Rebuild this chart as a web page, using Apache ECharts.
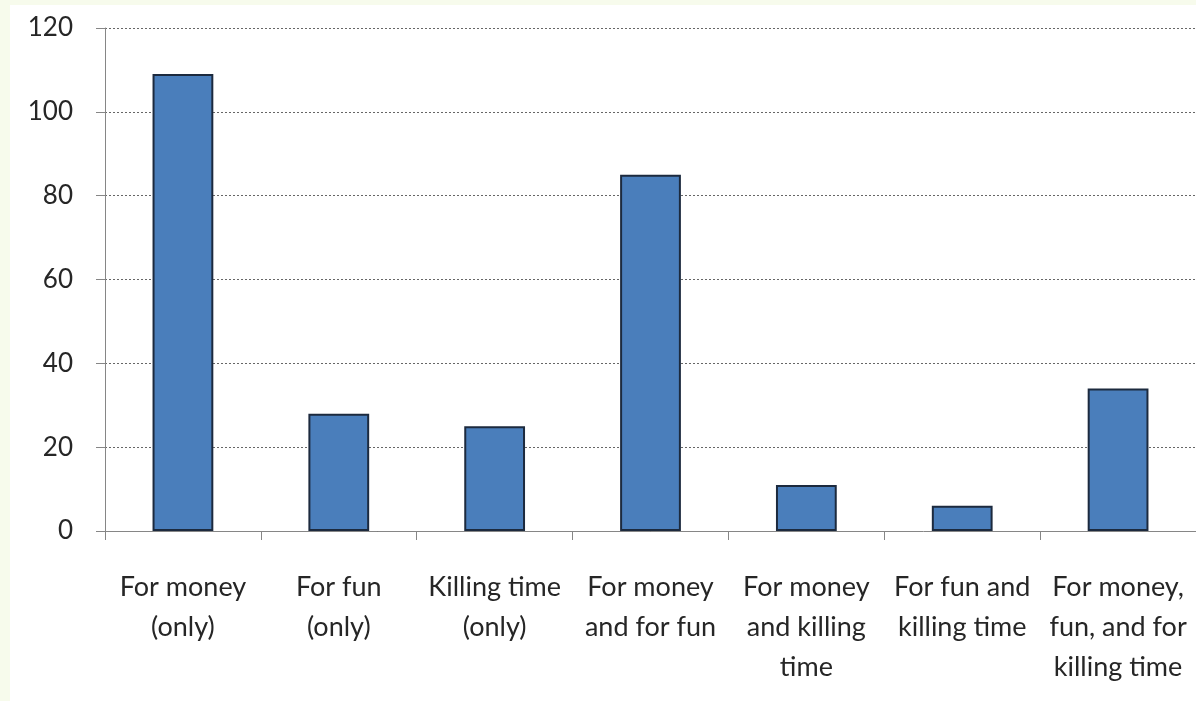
<!DOCTYPE html>
<html>
<head>
<meta charset="utf-8">
<script src="https://cdn.jsdelivr.net/npm/echarts@6/dist/echarts.min.js"></script>
<style>
  html, body { margin: 0; padding: 0; width: 1196px; height: 701px; background: #f7fbec; overflow: hidden; }
  #chart { position: absolute; left: 10px; top: 5px; width: 1186px; height: 696px; background: #ffffff; }
</style>
</head>
<body>
<div id="chart"></div>
<script>
const categories = [
  "For money\n(only)",
  "For fun\n(only)",
  "Killing time\n(only)",
  "For money\nand for fun",
  "For money\nand killing\ntime",
  "For fun and\nkilling time",
  "For money,\nfun, and for\nkilling time"
];
const values = [109, 28, 25, 85, 11, 6, 34];
const yTicks = { min: 0, max: 120, interval: 20 };

const chart = echarts.init(document.getElementById('chart'), null, { renderer: 'canvas' });
const fontFamily = 'Lato, "Open Sans", sans-serif';
chart.setOption({
  backgroundColor: '#ffffff',
  animation: false,
  grid: { left: 95, top: 23, right: 0, bottom: 170, containLabel: false },
  xAxis: {
    type: 'category',
    data: categories,
    axisLine: { show: true, lineStyle: { color: '#868686', width: 1 } },
    axisTick: { show: true, length: 9, alignWithLabel: false, lineStyle: { color: '#868686' } },
    axisLabel: {
      interval: 0,
      margin: 36,
      color: '#262626',
      fontFamily: fontFamily,
      fontSize: 27,
      lineHeight: 40,
      align: 'center'
    },
    splitLine: { show: false }
  },
  yAxis: {
    type: 'value',
    min: yTicks.min,
    max: yTicks.max,
    interval: yTicks.interval,
    axisLine: { show: true, lineStyle: { color: '#868686', width: 1 } },
    axisTick: { show: true, length: 9, lineStyle: { color: '#868686' } },
    axisLabel: {
      margin: 32,
      color: '#262626',
      fontFamily: fontFamily,
      fontSize: 26
    },
    splitLine: { show: true, lineStyle: { color: '#666666', type: [2, 2], width: 1 } }
  },
  series: [{
    type: 'bar',
    data: values,
    barWidth: '39%',
    itemStyle: { color: '#4a7ebb', borderColor: '#1c2a3e', borderWidth: 2 }
  }]
});
</script>
</body>
</html>
